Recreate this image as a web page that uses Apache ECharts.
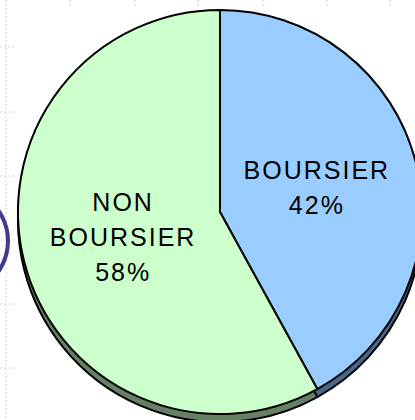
<!DOCTYPE html>
<html>
<head>
<meta charset="utf-8">
<style>
  html, body { margin: 0; padding: 0; background: #ffffff; }
  #chart { width: 415px; height: 420px; }
  #chart text { letter-spacing: 2px; }
</style>
<script src="https://cdn.jsdelivr.net/npm/echarts@6/dist/echarts.min.js"></script>
</head>
<body>
<div id="chart"></div>
<script>
// Share of students holding a grant
const categories = ['BOURSIER', 'NON BOURSIER'];
const shares = [42, 58];
const faceColors = ['#99ccff', '#ccffcc'];
const sideColors = ['#4c6688', '#668066'];

const chart = echarts.init(document.getElementById('chart'), null, { renderer: 'svg' });

const faceData = categories.map((name, i) => ({ name, value: shares[i], itemStyle: { color: faceColors[i] } }));
const sideData = categories.map((name, i) => ({ name, value: shares[i], itemStyle: { color: sideColors[i] } }));
const labelData = categories.map((name, i) => ({ name, value: shares[i] }));

// Faint slide guides: dotted vertical rule with crosses, short ticks along the top
const guides = [];
const guideStyle = { stroke: '#c4d2f2', lineWidth: 1, lineDash: [2, 2] };
guides.push({ type: 'line', shape: { x1: 6, y1: 0, x2: 6, y2: 420 }, style: guideStyle, silent: true });
[47, 112, 176, 240, 304, 368].forEach(y => {
  guides.push({ type: 'line', shape: { x1: 0, y1: y, x2: 14, y2: y }, style: guideStyle, silent: true });
});
[70, 135, 198, 263, 327, 390].forEach(x => {
  guides.push({ type: 'line', shape: { x1: x, y1: 0, x2: x, y2: 8 }, style: guideStyle, silent: true });
});
// Ring peeking in from the left edge
guides.push({
  type: 'circle', shape: { cx: -45, cy: 241, r: 53 },
  style: { fill: 'none', stroke: '#3d3d8f', lineWidth: 4 }, silent: true
});

const pieBase = {
  type: 'pie',
  startAngle: 90,
  clockwise: true,
  labelLine: { show: false },
  emphasis: { disabled: true }
};

chart.setOption({
  animation: false,
  backgroundColor: '#ffffff',
  graphic: guides,
  series: [
    Object.assign({}, pieBase, {
      // depth of the disc
      center: [220, 220],
      radius: 202,
      silent: true,
      z: 1,
      label: { show: false },
      itemStyle: { borderColor: '#000000', borderWidth: 2 },
      data: sideData
    }),
    Object.assign({}, pieBase, {
      // top face
      center: [220, 212],
      radius: 202,
      z: 2,
      label: { show: false },
      itemStyle: { borderColor: '#000000', borderWidth: 2 },
      data: faceData
    }),
    Object.assign({}, pieBase, {
      // labels sit halfway along a slightly smaller radius
      center: [220, 212],
      radius: 194,
      z: 3,
      silent: true,
      itemStyle: { color: 'rgba(0,0,0,0)', borderWidth: 0 },
      label: {
        show: true,
        position: 'inside',
        fontFamily: '"Liberation Sans", Arial, sans-serif',
        fontSize: 25,
        lineHeight: 35,
        color: '#000000',
        formatter: p => p.name.replace(' ', '\n') + '\n' + Math.round(p.percent) + '%'
      },
      data: labelData
    })
  ]
});
</script>
</body>
</html>
